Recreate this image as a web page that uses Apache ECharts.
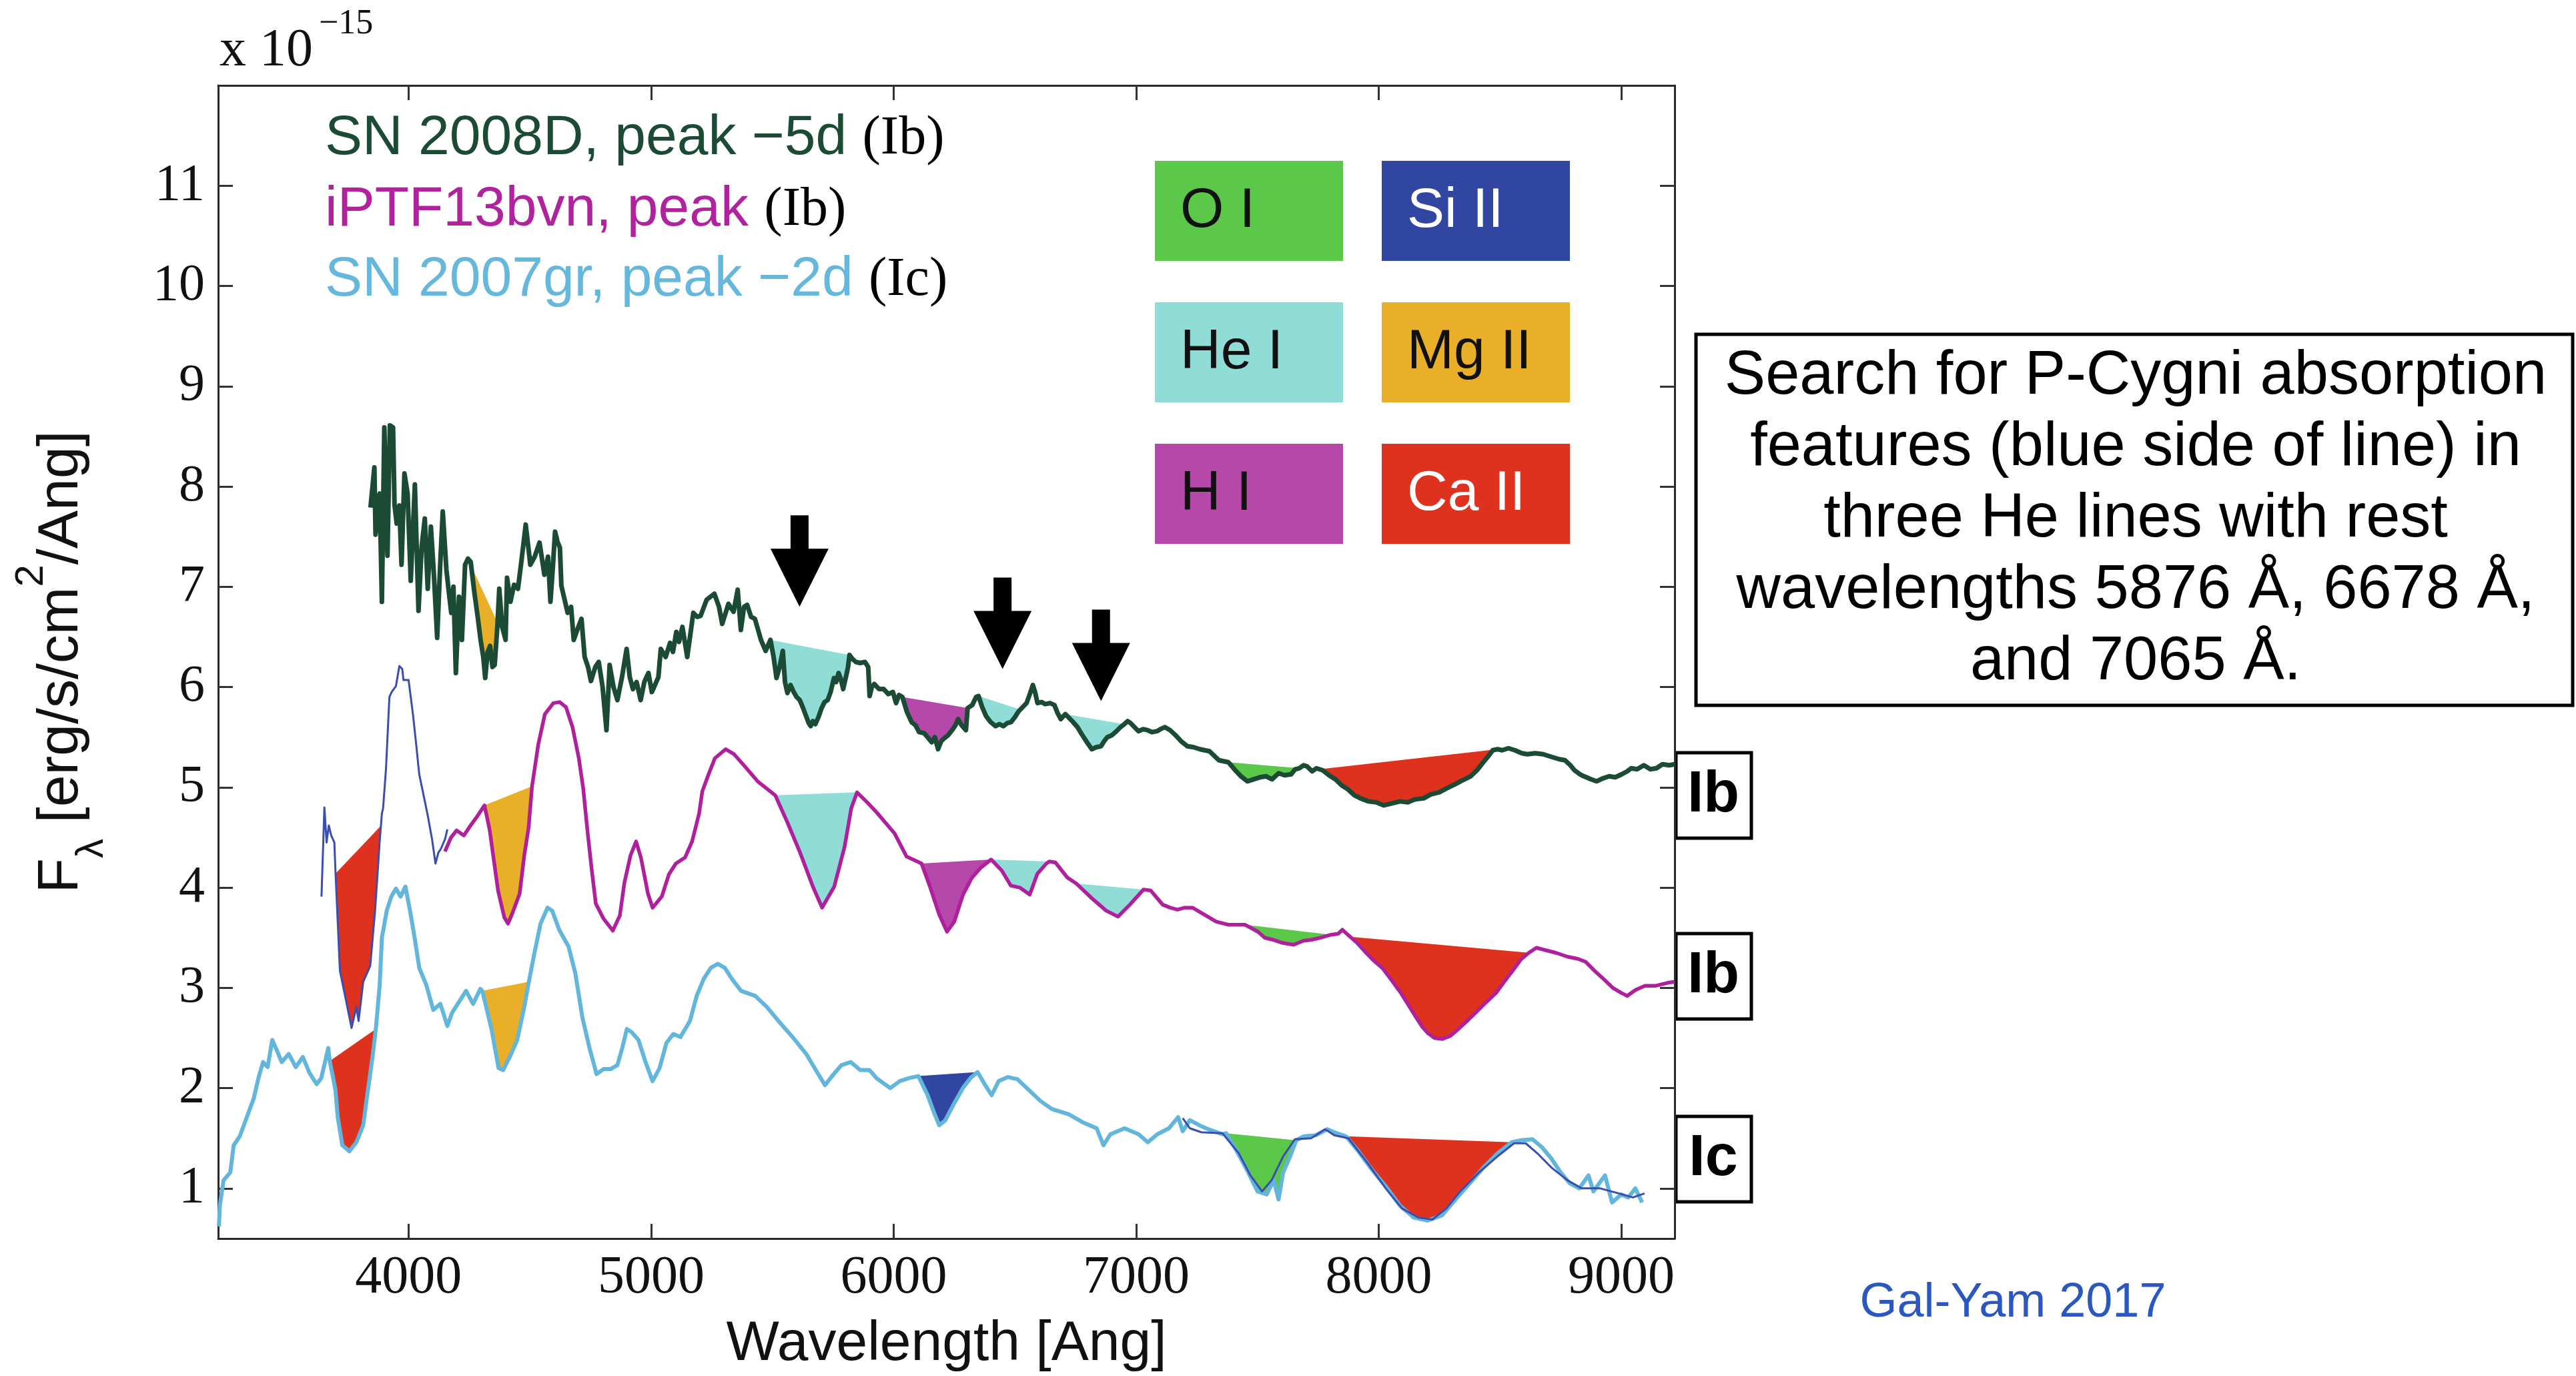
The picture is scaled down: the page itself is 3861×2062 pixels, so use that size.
<!DOCTYPE html>
<html><head><meta charset="utf-8">
<script src="https://cdn.jsdelivr.net/npm/echarts@6/dist/echarts.min.js"></script>
<style>html,body{margin:0;padding:0;background:#fff}#c{width:3861px;height:2062px}</style>
</head><body><div id="c"></div>
<script>
// ---------------- DATA ----------------
const xTicks = [4000, 5000, 6000, 7000, 8000, 9000];
const yTicks = [1, 2, 3, 4, 5, 6, 7, 8, 9, 10, 11];

const sn2008D = [[3843,7.79],[3859,8.19],[3864,7.52],[3872,7.85],[3881,7.93],[3890,6.85],[3900,8.59],[3913,7.31],[3923,8.61],[3936,8.59],[3942,7.82],[3951,7.63],[3962,7.81],[3971,7.22],[3983,8.13],[3996,7.93],[4009,7.06],[4026,8.02],[4041,6.76],[4054,7.40],[4067,7.68],[4079,6.98],[4092,7.60],[4105,7.10],[4118,6.49],[4130,7.20],[4141,7.75],[4156,7.17],[4166,6.95],[4176,6.74],[4185,7.00],[4195,6.14],[4208,6.90],[4220,6.47],[4233,7.22],[4245,7.28],[4256,7.25],[4271,6.95],[4285,6.70],[4297,6.47],[4308,6.30],[4316,6.09],[4326,6.35],[4336,6.41],[4346,6.20],[4355,6.22],[4366,6.60],[4374,6.98],[4386,6.60],[4400,6.47],[4406,7.09],[4420,6.85],[4435,7.02],[4451,6.98],[4465,7.25],[4483,7.62],[4502,7.22],[4520,7.30],[4540,7.44],[4560,7.12],[4575,7.30],[4585,6.85],[4595,7.20],[4604,7.55],[4614,7.45],[4624,7.39],[4630,7.01],[4656,6.74],[4670,6.80],[4681,6.47],[4700,6.60],[4713,6.68],[4726,6.30],[4740,6.20],[4752,6.06],[4770,6.20],[4784,6.25],[4800,6.00],[4816,5.57],[4829,6.22],[4845,6.00],[4861,5.87],[4880,6.10],[4899,6.38],[4912,6.10],[4925,5.98],[4940,6.05],[4957,5.87],[4972,6.05],[4989,6.14],[5003,5.95],[5014,6.01],[5030,6.10],[5040,6.38],[5060,6.30],[5078,6.44],[5090,6.35],[5104,6.55],[5115,6.45],[5129,6.60],[5149,6.30],[5174,6.74],[5190,6.70],[5204,6.71],[5229,6.87],[5261,6.93],[5280,6.80],[5293,6.63],[5319,6.83],[5340,6.75],[5357,6.97],[5370,6.57],[5383,6.80],[5396,6.82],[5412,6.70],[5428,6.68],[5453,6.47],[5472,6.36],[5492,6.47],[5505,6.30],[5517,6.09],[5530,6.20],[5543,6.36],[5552,6.05],[5562,5.94],[5575,6.02],[5588,5.95],[5600,5.90],[5613,5.87],[5625,5.80],[5639,5.71],[5650,5.64],[5658,5.61],[5667,5.66],[5677,5.63],[5690,5.70],[5703,5.79],[5715,5.85],[5728,5.87],[5740,5.95],[5754,6.09],[5763,6.05],[5773,6.14],[5782,6.08],[5792,5.98],[5805,6.12],[5812,6.20],[5818,6.32],[5830,6.28],[5844,6.25],[5862,6.24],[5882,6.25],[5895,6.20],[5901,5.91],[5910,6.00],[5920,6.03],[5940,5.98],[5959,5.98],[5978,5.93],[5997,5.95],[6010,5.84],[6022,5.92],[6036,5.90],[6055,5.75],[6074,5.65],[6090,5.62],[6105,5.55],[6125,5.54],[6140,5.50],[6157,5.45],[6170,5.50],[6183,5.38],[6196,5.46],[6209,5.49],[6225,5.52],[6241,5.57],[6255,5.62],[6266,5.68],[6280,5.62],[6298,5.57],[6305,5.79],[6324,5.82],[6340,5.90],[6350,5.91],[6365,5.80],[6381,5.71],[6400,5.65],[6420,5.61],[6436,5.63],[6452,5.61],[6468,5.64],[6484,5.65],[6500,5.70],[6516,5.76],[6532,5.80],[6548,5.84],[6560,5.92],[6574,6.02],[6583,5.95],[6593,5.84],[6610,5.85],[6625,5.83],[6645,5.84],[6663,5.82],[6676,5.74],[6689,5.68],[6708,5.73],[6724,5.69],[6740,5.65],[6758,5.60],[6778,5.52],[6797,5.45],[6817,5.38],[6835,5.40],[6855,5.41],[6868,5.46],[6881,5.50],[6900,5.52],[6919,5.56],[6935,5.60],[6951,5.63],[6965,5.66],[6977,5.64],[6993,5.60],[7009,5.56],[7028,5.58],[7047,5.57],[7066,5.55],[7086,5.56],[7100,5.58],[7118,5.60],[7140,5.57],[7162,5.52],[7185,5.46],[7211,5.41],[7237,5.40],[7263,5.38],[7302,5.36],[7341,5.27],[7380,5.25],[7405,5.18],[7432,5.11],[7458,5.06],[7484,5.08],[7510,5.10],[7536,5.11],[7560,5.08],[7587,5.14],[7612,5.12],[7639,5.13],[7655,5.18],[7672,5.19],[7690,5.22],[7704,5.21],[7725,5.16],[7743,5.19],[7756,5.18],[7769,5.17],[7795,5.12],[7821,5.08],[7847,5.02],[7873,4.98],[7900,4.92],[7925,4.89],[7958,4.86],[7990,4.85],[8020,4.82],[8055,4.84],[8088,4.86],[8120,4.85],[8150,4.88],[8185,4.89],[8215,4.93],[8249,4.95],[8280,4.99],[8314,5.03],[8345,5.07],[8379,5.11],[8405,5.17],[8431,5.25],[8455,5.32],[8470,5.37],[8490,5.38],[8509,5.37],[8535,5.39],[8561,5.37],[8590,5.34],[8613,5.33],[8645,5.34],[8678,5.33],[8717,5.30],[8745,5.28],[8768,5.27],[8790,5.22],[8807,5.17],[8830,5.13],[8846,5.11],[8875,5.08],[8898,5.06],[8925,5.09],[8950,5.11],[8975,5.10],[9002,5.13],[9025,5.16],[9041,5.19],[9065,5.18],[9093,5.22],[9120,5.18],[9145,5.19],[9170,5.23],[9197,5.22],[9220,5.23]];

const iptfBlue = [[3641,3.91],[3653,4.80],[3662,4.45],[3671,4.62],[3681,4.52],[3694,4.45],[3699,4.14],[3717,3.17],[3740,2.90],[3765,2.60],[3785,2.81],[3794,2.67],[3813,3.06],[3842,3.22],[3862,3.77],[3881,4.46],[3890,4.74],[3895,4.79],[3907,5.19],[3921,5.90],[3930,5.95],[3948,6.01],[3962,6.21],[3974,6.18],[3979,6.07],[4000,6.07],[4018,5.73],[4030,5.46],[4044,5.13],[4062,4.92],[4079,4.72],[4097,4.48],[4111,4.24],[4123,4.35],[4132,4.38],[4150,4.48],[4160,4.58]];

const iptf13bvn = [[4150,4.36],[4175,4.50],[4198,4.57],[4228,4.52],[4250,4.60],[4280,4.70],[4313,4.82],[4334,4.58],[4369,3.97],[4395,3.70],[4410,3.64],[4429,3.75],[4458,3.94],[4477,4.32],[4495,4.60],[4509,5.01],[4535,5.43],[4562,5.73],[4597,5.84],[4623,5.85],[4649,5.80],[4676,5.60],[4702,5.29],[4720,4.99],[4737,4.58],[4755,4.18],[4772,3.84],[4804,3.69],[4842,3.57],[4871,3.72],[4890,4.05],[4915,4.32],[4938,4.46],[4958,4.30],[4987,3.94],[5006,3.80],[5044,3.91],[5073,4.13],[5102,4.24],[5140,4.30],[5169,4.46],[5198,4.74],[5211,4.96],[5237,5.13],[5263,5.29],[5307,5.38],[5342,5.33],[5386,5.21],[5439,5.06],[5491,4.96],[5512,4.92],[5562,4.65],[5614,4.35],[5667,4.01],[5705,3.80],[5755,4.01],[5798,4.41],[5825,4.79],[5849,4.95],[5891,4.85],[5930,4.75],[6004,4.54],[6053,4.31],[6115,4.24],[6151,4.00],[6188,3.73],[6220,3.56],[6250,3.66],[6286,3.93],[6323,4.10],[6360,4.20],[6402,4.28],[6446,4.17],[6483,4.02],[6520,4.00],[6561,3.93],[6593,4.14],[6630,4.24],[6642,4.26],[6667,4.25],[6716,4.10],[6753,4.04],[6814,3.90],[6876,3.77],[6925,3.71],[6974,3.83],[7030,3.98],[7060,3.97],[7109,3.83],[7140,3.80],[7170,3.78],[7200,3.80],[7232,3.80],[7281,3.73],[7330,3.66],[7379,3.63],[7448,3.63],[7502,3.56],[7530,3.50],[7563,3.48],[7600,3.45],[7649,3.43],[7690,3.47],[7723,3.48],[7760,3.50],[7804,3.53],[7833,3.54],[7850,3.58],[7882,3.51],[7910,3.45],[7944,3.36],[7980,3.27],[8018,3.19],[8055,3.07],[8091,2.95],[8122,2.83],[8153,2.71],[8180,2.61],[8202,2.55],[8230,2.50],[8263,2.49],[8295,2.52],[8324,2.58],[8360,2.66],[8398,2.75],[8440,2.85],[8484,2.95],[8520,3.07],[8558,3.19],[8585,3.28],[8619,3.35],[8650,3.40],[8681,3.38],[8730,3.35],[8779,3.31],[8820,3.29],[8853,3.26],[8890,3.17],[8926,3.09],[8965,3.00],[9000,2.95],[9024,2.92],[9060,2.98],[9098,3.02],[9140,3.02],[9191,3.05],[9220,3.06]];

const sn2007gr = [[3218,0.62],[3222,0.83],[3237,1.08],[3265,1.16],[3279,1.43],[3304,1.52],[3333,1.71],[3362,1.90],[3381,2.10],[3400,2.26],[3419,2.21],[3438,2.48],[3458,2.37],[3477,2.26],[3506,2.34],[3535,2.21],[3564,2.31],[3592,2.15],[3621,2.04],[3640,2.10],[3669,2.40],[3675,2.27],[3698,1.99],[3708,1.71],[3727,1.43],[3756,1.37],[3785,1.46],[3813,1.63],[3833,1.99],[3852,2.32],[3865,2.59],[3871,2.75],[3881,3.03],[3890,3.50],[3910,3.77],[3929,3.91],[3948,3.99],[3967,3.91],[3987,4.01],[4006,3.77],[4025,3.50],[4044,3.20],[4073,3.03],[4102,2.78],[4131,2.84],[4160,2.62],[4179,2.75],[4208,2.86],[4237,2.97],[4266,2.84],[4296,2.99],[4304,2.97],[4342,2.59],[4371,2.20],[4390,2.18],[4419,2.32],[4448,2.48],[4477,2.81],[4496,3.06],[4515,3.30],[4544,3.64],[4573,3.80],[4592,3.77],[4621,3.58],[4660,3.41],[4688,3.14],[4717,2.70],[4746,2.40],[4775,2.14],[4804,2.19],[4833,2.19],[4861,2.23],[4881,2.40],[4900,2.59],[4919,2.56],[4948,2.48],[4977,2.26],[5006,2.07],[5035,2.20],[5063,2.45],[5092,2.54],[5121,2.51],[5160,2.67],[5188,2.92],[5217,3.09],[5246,3.20],[5275,3.24],[5304,3.20],[5333,3.09],[5371,2.97],[5429,2.92],[5477,2.81],[5525,2.67],[5583,2.51],[5640,2.34],[5679,2.18],[5717,2.03],[5746,2.12],[5785,2.23],[5823,2.26],[5862,2.18],[5900,2.18],[5929,2.10],[5986,2.00],[6025,2.07],[6063,2.10],[6102,2.12],[6140,1.93],[6169,1.74],[6188,1.63],[6213,1.68],[6250,1.85],[6288,2.01],[6317,2.10],[6346,2.16],[6375,2.04],[6404,1.93],[6433,2.07],[6471,2.11],[6510,2.09],[6558,1.98],[6606,1.87],[6654,1.79],[6721,1.74],[6779,1.66],[6837,1.60],[6865,1.43],[6894,1.54],[6952,1.60],[7010,1.54],[7048,1.46],[7087,1.54],[7135,1.60],[7173,1.71],[7192,1.57],[7221,1.68],[7260,1.63],[7298,1.59],[7356,1.54],[7371,1.55],[7413,1.38],[7462,1.16],[7500,0.97],[7538,0.94],[7567,1.08],[7587,0.89],[7606,1.16],[7635,1.32],[7660,1.48],[7692,1.52],[7740,1.53],[7788,1.59],[7827,1.55],[7865,1.52],[7913,1.38],[7971,1.19],[8029,1.02],[8087,0.83],[8144,0.71],[8202,0.68],[8260,0.73],[8317,0.89],[8375,1.05],[8433,1.21],[8490,1.35],[8548,1.46],[8586,1.48],[8634,1.49],[8673,1.41],[8711,1.30],[8750,1.16],[8788,1.05],[8827,1.00],[8865,1.13],[8885,0.97],[8933,1.13],[8962,0.86],[9000,0.94],[9029,0.91],[9058,1.00],[9086,0.86]];

const sn2007grSmooth = [[7192,1.70],[7221,1.60],[7269,1.56],[7356,1.55],[7423,1.35],[7471,1.13],[7519,0.97],[7558,1.08],[7606,1.32],[7654,1.49],[7721,1.50],[7779,1.59],[7817,1.53],[7875,1.50],[7952,1.26],[8029,1.00],[8096,0.80],[8163,0.71],[8221,0.69],[8279,0.80],[8336,0.97],[8413,1.16],[8490,1.32],[8558,1.45],[8606,1.45],[8654,1.35],[8711,1.21],[8779,1.08],[8837,1.00],[8913,1.00],[8990,0.95],[9048,0.91],[9096,0.95]];

// absorption features: [start wavelength, end wavelength, ion]
const features2008D = [[4258,4400,'Mg II'],[5492,5818,'He I'],[6036,6305,'H I'],[6350,6522,'He I'],[6708,6951,'He I'],[7380,7672,'O I'],[7756,8490,'Ca II']];
const featuresIPTF = [[3699,3886,'Ca II'],[4313,4509,'Mg II'],[5512,5849,'He I'],[6115,6402,'H I'],[6402,6642,'He I'],[6753,7030,'He I'],[7448,7804,'O I'],[7882,8619,'Ca II']];
const features2007gr = [[3675,3865,'Ca II'],[4304,4496,'Mg II'],[6102,6346,'Si II'],[7371,7660,'O I'],[7865,8548,'Ca II']];

const arrowTips = [[5612,6.80],[6449,6.18],[6855,5.86]];

const ions = ['O I','Si II','He I','Mg II','H I','Ca II'];
const legendNames = ['SN 2008D, peak \u22125d','iPTF13bvn, peak','SN 2007gr, peak \u22122d'];
const legendTypes = ['(Ib)','(Ib)','(Ic)'];
const typeTags = ['Ib','Ib','Ic'];
const noteText = 'Search for P-Cygni absorption\nfeatures (blue side of line) in\nthree He lines with rest\nwavelengths 5876 \u00c5, 6678 \u00c5,\nand 7065 \u00c5.';
const creditText = 'Gal-Yam 2017';

// ---------------- STYLE ----------------
const ionStyle = {
  'O I':  {fill:'#5cc84a', text:'#111'},
  'Si II':{fill:'#3146a0', text:'#fff'},
  'He I': {fill:'#90ddd7', text:'#111'},
  'Mg II':{fill:'#e9af28', text:'#111'},
  'H I':  {fill:'#b548a8', text:'#111'},
  'Ca II':{fill:'#de321f', text:'#fff'}
};
const C_GREEN = '#1b4b35', C_MAG = '#b01f9c', C_LB = '#62b6dc', C_BLUE = '#3a4db0';
const SANS = 'Liberation Sans', SERIF = 'Liberation Serif';

function interp(spec, x){
  for (let i = 0; i < spec.length - 1; i++) {
    const a = spec[i], b = spec[i+1];
    if (a[0] <= x && b[0] >= x) {
      const t = (b[0] - a[0]) ? (x - a[0]) / (b[0] - a[0]) : 0;
      return [x, a[1] + t * (b[1] - a[1])];
    }
  }
  return null;
}
function segment(spec, x1, x2){
  const pts = [interp(spec, x1)];
  spec.forEach(p => { if (p[0] > x1 && p[0] < x2) pts.push(p); });
  pts.push(interp(spec, x2));
  return pts.filter(Boolean);
}
function fillSeries(spec, feats){
  return {
    type:'custom', silent:true, z:2, animation:false,
    data: feats.map(f => [f[0], interp(spec, f[0])[1]]),
    encode:{x:0, y:1},
    renderItem:(params, api) => {
      const f = feats[params.dataIndex];
      const pts = segment(spec, f[0], f[1]).map(p => api.coord(p));
      return {type:'polygon', shape:{points:pts}, style:{fill: ionStyle[f[2]].fill}};
    }
  };
}
function lineSeries(data, color, width, z){
  return {type:'line', data, showSymbol:false, symbol:'none', z, animation:false, silent:true,
    lineStyle:{color, width, join:'round'}};
}

const chart = echarts.init(document.getElementById('c'), null, {renderer:'canvas'});

const axisLineStyle = {show:true, lineStyle:{color:'#2a2a2a', width:3}};
const tickStyle = {show:true, inside:true, length:22, lineStyle:{color:'#333', width:3}};

const graphics = [];
// x 10^-15
graphics.push({type:'text', x:329, y:77, style:{text:'x 10', fontFamily:SERIF, fontSize:80, fill:'#111', textVerticalAlign:'middle'}});
graphics.push({type:'text', x:478, y:36, style:{text:'\u221215', fontFamily:SERIF, fontSize:52, fill:'#111', textVerticalAlign:'middle'}});
// legend lines
const legendColors = [C_GREEN, '#b0229e', '#65b7dc'];
const legendY = [208, 315, 420];
legendNames.forEach((n, i) => {
  graphics.push({type:'text', x:487, y:legendY[i], style:{
    text: n + ' {p|' + legendTypes[i] + '}', fontFamily:SANS, fontSize:84, fill:legendColors[i],
    textVerticalAlign:'middle',
    rich:{p:{fontFamily:SERIF, fontSize:82, fill:'#000'}}
  }});
});
// ion colour boxes
ions.forEach((ion, i) => {
  const col = i % 2, row = Math.floor(i / 2);
  const x = 1731 + col * 340, y = 241 + row * 212;
  graphics.push({type:'rect', shape:{x, y, width:282, height:150}, style:{fill:ionStyle[ion].fill}});
  graphics.push({type:'text', x:x + 38, y:y + 76, style:{text:ion, fontFamily:SANS, fontSize:84, fill:ionStyle[ion].text, textVerticalAlign:'middle'}});
});
// note box
graphics.push({type:'rect', shape:{x:2542, y:501, width:1314, height:556}, style:{fill:'#fff', stroke:'#000', lineWidth:5}});
graphics.push({type:'text', x:3201, y:779, style:{text:noteText, fontFamily:SANS, fontSize:92, lineHeight:107, fill:'#000', textAlign:'center', textVerticalAlign:'middle'}});
// type tags
const tagY = [1128, 1399, 1673];
typeTags.forEach((t, i) => {
  graphics.push({type:'rect', shape:{x:2512, y:tagY[i], width:113, height:128}, style:{fill:'#fff', stroke:'#000', lineWidth:5}});
  graphics.push({type:'text', x:2568, y:tagY[i] + 64, style:{text:t, fontFamily:SANS, fontWeight:'bold', fontSize:88, fill:'#000', textAlign:'center', textVerticalAlign:'middle'}});
});
// credit
graphics.push({type:'text', x:3017, y:1953, style:{text:creditText, fontFamily:SANS, fontSize:72, fill:'#2b57c0', textAlign:'center', textVerticalAlign:'middle'}});

const option = {
  backgroundColor:'#fff',
  animation:false,
  grid:{left:327, right:1351, top:128, bottom:201, containLabel:false},
  xAxis:[
    {type:'value', min:3215, max:9220, position:'bottom',
     axisLine:{...axisLineStyle, onZero:false},
     axisTick:{...tickStyle, customValues:xTicks},
     axisLabel:{customValues:xTicks, formatter:v => String(v), fontFamily:SERIF, fontSize:80, color:'#111', margin:20},
     splitLine:{show:false},
     name:'Wavelength [Ang]', nameLocation:'middle', nameGap:117,
     nameTextStyle:{fontFamily:SANS, fontSize:84, color:'#111'}},
    {type:'value', min:3215, max:9220, position:'top',
     axisLine:{...axisLineStyle, onZero:false},
     axisTick:{...tickStyle, customValues:xTicks},
     axisLabel:{show:false}, splitLine:{show:false}}
  ],
  yAxis:[
    {type:'value', min:0.5, max:12, position:'left',
     axisLine:{...axisLineStyle, onZero:false},
     axisTick:{...tickStyle, customValues:yTicks},
     axisLabel:{customValues:yTicks, formatter:v => String(v), fontFamily:SERIF, fontSize:78, color:'#111', margin:20},
     splitLine:{show:false},
     name:'{a|F}{s|\u03bb}{a| [erg/s/cm}{p|2}{a|/Ang]}', nameLocation:'middle', nameGap:160, nameRotate:90,
     nameTextStyle:{rich:{
       a:{fontFamily:SANS, fontSize:86, color:'#111', lineHeight:150},
       s:{fontFamily:SANS, fontSize:58, color:'#111', lineHeight:40, verticalAlign:'bottom'},
       p:{fontFamily:SANS, fontSize:60, color:'#111', lineHeight:76, verticalAlign:'top'}
     }}},
    {type:'value', min:0.5, max:12, position:'right',
     axisLine:{...axisLineStyle, onZero:false},
     axisTick:{...tickStyle, customValues:yTicks},
     axisLabel:{show:false}, splitLine:{show:false}}
  ],
  series:[
    fillSeries(sn2008D, features2008D),
    fillSeries(iptfBlue.concat(iptf13bvn), featuresIPTF),
    fillSeries(sn2007gr, features2007gr),
    lineSeries(sn2008D, C_GREEN, 7, 4),
    lineSeries(iptfBlue, C_BLUE, 3, 4),
    lineSeries(iptf13bvn, C_MAG, 5.5, 4),
    lineSeries(sn2007gr, C_LB, 6, 4),
    lineSeries(sn2007grSmooth, C_BLUE, 3, 5),
    {type:'custom', silent:true, z:6, animation:false, data:arrowTips, encode:{x:0, y:1},
     renderItem:(params, api) => {
       const p = api.coord([api.value(0), api.value(1)]);
       const x = p[0], y = p[1];
       return {type:'polygon', shape:{points:[[x-13.5,y-137],[x+13.5,y-137],[x+13.5,y-87],[x+43.5,y-87],[x,y],[x-43.5,y-87],[x-13.5,y-87]]}, style:{fill:'#000'}};
     }}
  ],
  graphic: graphics
};
chart.setOption(option);
</script></body></html>
